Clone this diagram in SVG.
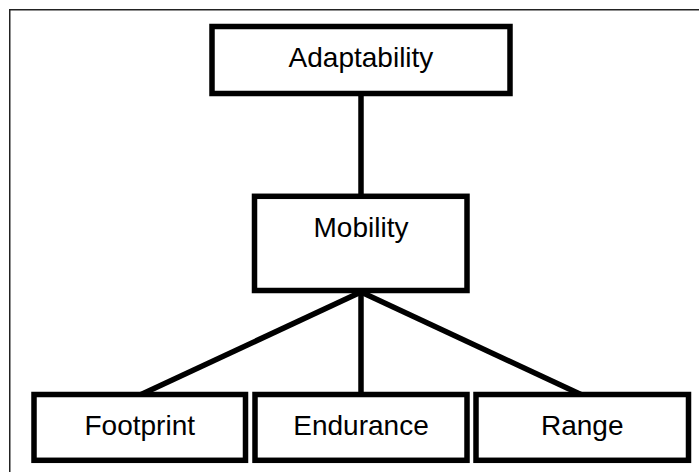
<svg xmlns="http://www.w3.org/2000/svg" width="699" height="472" viewBox="0 0 699 472">
  <style>
    .box { fill: #ffffff; stroke: #000000; stroke-width: 5.5; }
    .label { font-family: "Liberation Sans", Arial, sans-serif; font-size: 28px; fill: #000000; text-anchor: middle; }
    .link { stroke: #000000; stroke-width: 5.5; fill: none; }
  </style>
  <rect x="0" y="0" width="699" height="472" fill="#ffffff"/>
  <!-- outer frame -->
  <rect x="9.75" y="9.75" width="700" height="470" fill="none" stroke="#222222" stroke-width="1.5"/>

  <g id="connectors">
    <line class="link" x1="361" y1="93" x2="361" y2="197"/>
    <line class="link" x1="361" y1="292" x2="140" y2="395"/>
    <line class="link" x1="361" y1="292" x2="361" y2="395"/>
    <line class="link" x1="361" y1="292" x2="582" y2="395"/>
  </g>

  <g id="adaptability">
    <rect class="box" x="212" y="26.5" width="298" height="67"/>
    <text class="label" x="361" y="66.5">Adaptability</text>
  </g>

  <g id="mobility">
    <rect class="box" x="254.5" y="196.3" width="212.5" height="94.2"/>
    <text class="label" x="361" y="236.5">Mobility</text>
  </g>

  <g id="footprint">
    <rect class="box" x="34" y="394.5" width="211.5" height="65.8"/>
    <text class="label" x="139.75" y="435">Footprint</text>
  </g>

  <g id="endurance">
    <rect class="box" x="255" y="394.5" width="212" height="65.8"/>
    <text class="label" x="361" y="435">Endurance</text>
  </g>

  <g id="range">
    <rect class="box" x="476" y="394.5" width="212.5" height="65.8"/>
    <text class="label" x="582.25" y="435">Range</text>
  </g>
</svg>
